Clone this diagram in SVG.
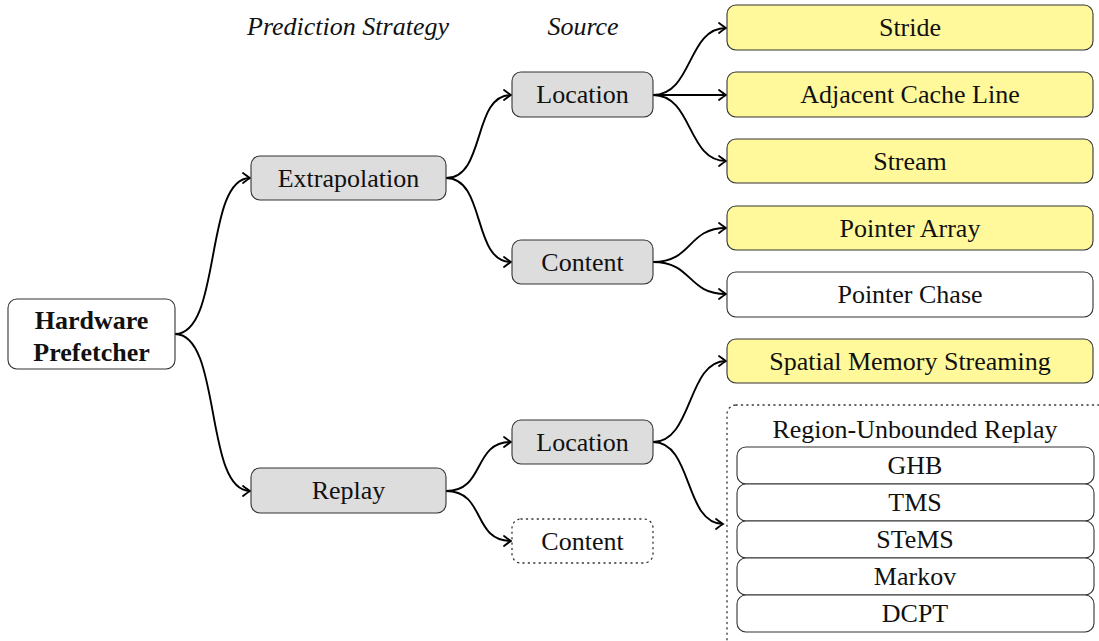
<svg xmlns="http://www.w3.org/2000/svg" width="1099" height="641" viewBox="0 0 1099 641">
<defs>
<marker id="arr" markerUnits="userSpaceOnUse" viewBox="-9 -7 11 14" refX="0" refY="0" markerWidth="11" markerHeight="14" orient="auto">
<path d="M-7,-5 Q-2,-1.2 0,0 Q-2,1.2 -7,5" fill="none" stroke="#000" stroke-width="1.8" stroke-linecap="round"/>
</marker>
</defs>
<rect width="1099" height="641" fill="#fff"/>
<g id="connectors" fill="none" stroke="#000" stroke-width="1.9" marker-end="url(#arr)">
<path d="M175,334 C222,334 204,178 250,178"/>
<path d="M175,334 C222,334 204,491 250,491"/>
<path d="M446,178 C486,178 472,95 511,95"/>
<path d="M446,178 C486,178 472,262 511,262"/>
<path d="M446,491 C486,491 472,442 511,442"/>
<path d="M446,491 C486,491 472,541 511,541"/>
<path d="M653,95 C693,95 687,28 726,28"/>
<path d="M653,95 L726,95"/>
<path d="M653,95 C693,95 687,161 726,161"/>
<path d="M653,262 C693,262 687,228 726,228"/>
<path d="M653,262 C693,262 687,294 726,294"/>
<path d="M653,442 C693,442 687,361 726,361"/>
<path d="M653,442 C693,442 684,524 723,524"/>
</g>
<g id="headers">
<text font-family="Liberation Serif" font-size="26" font-style="italic" fill="#111" text-anchor="middle" x="348" y="35">Prediction Strategy</text>
<text font-family="Liberation Serif" font-size="26" font-style="italic" fill="#111" text-anchor="middle" x="583" y="35">Source</text>
</g>
<g id="n-hw"><rect fill="#fff" stroke="#333" stroke-width="1.1" x="8" y="299" width="167" height="70" rx="9"/><text font-family="Liberation Serif" font-size="26" font-weight="bold" fill="#111" text-anchor="middle" x="91.5" y="329">Hardware</text><text font-family="Liberation Serif" font-size="26" font-weight="bold" fill="#111" text-anchor="middle" x="91.5" y="361">Prefetcher</text></g>
<g id="n-extrap"><rect fill="#dddddd" stroke="#333" stroke-width="1.1" x="251" y="156" width="195" height="44" rx="9"/><text font-family="Liberation Serif" font-size="26" fill="#111" text-anchor="middle" x="348.5" y="187">Extrapolation</text></g>
<g id="n-replay"><rect fill="#dddddd" stroke="#333" stroke-width="1.1" x="251" y="468" width="195" height="45" rx="9"/><text font-family="Liberation Serif" font-size="26" fill="#111" text-anchor="middle" x="348.5" y="499">Replay</text></g>
<g id="n-loc1"><rect fill="#dddddd" stroke="#333" stroke-width="1.1" x="512" y="72" width="141" height="45" rx="9"/><text font-family="Liberation Serif" font-size="26" fill="#111" text-anchor="middle" x="582.5" y="103">Location</text></g>
<g id="n-con1"><rect fill="#dddddd" stroke="#333" stroke-width="1.1" x="512" y="240" width="141" height="44" rx="9"/><text font-family="Liberation Serif" font-size="26" fill="#111" text-anchor="middle" x="582.5" y="271">Content</text></g>
<g id="n-loc2"><rect fill="#dddddd" stroke="#333" stroke-width="1.1" x="512" y="420" width="141" height="44" rx="9"/><text font-family="Liberation Serif" font-size="26" fill="#111" text-anchor="middle" x="582.5" y="451">Location</text></g>
<g id="n-con2"><rect fill="#fff" stroke="#333" stroke-width="1.3" stroke-dasharray="1.2 4.2" stroke-linecap="round" x="512" y="519" width="141" height="44" rx="9"/><text font-family="Liberation Serif" font-size="26" fill="#111" text-anchor="middle" x="582.5" y="550">Content</text></g>
<g id="n-stride"><rect fill="#fff99c" stroke="#333" stroke-width="1.1" x="727" y="5" width="366" height="45" rx="9"/><text font-family="Liberation Serif" font-size="26" fill="#111" text-anchor="middle" x="910" y="36">Stride</text></g>
<g id="n-adj"><rect fill="#fff99c" stroke="#333" stroke-width="1.1" x="727" y="72" width="366" height="45" rx="9"/><text font-family="Liberation Serif" font-size="26" fill="#111" text-anchor="middle" x="910" y="103">Adjacent Cache Line</text></g>
<g id="n-stream"><rect fill="#fff99c" stroke="#333" stroke-width="1.1" x="727" y="139" width="366" height="44" rx="9"/><text font-family="Liberation Serif" font-size="26" fill="#111" text-anchor="middle" x="910" y="170">Stream</text></g>
<g id="n-parr"><rect fill="#fff99c" stroke="#333" stroke-width="1.1" x="727" y="206" width="366" height="44" rx="9"/><text font-family="Liberation Serif" font-size="26" fill="#111" text-anchor="middle" x="910" y="237">Pointer Array</text></g>
<g id="n-pchase"><rect fill="#fff" stroke="#333" stroke-width="1.1" x="727" y="272" width="366" height="45" rx="9"/><text font-family="Liberation Serif" font-size="26" fill="#111" text-anchor="middle" x="910" y="303">Pointer Chase</text></g>
<g id="n-sms"><rect fill="#fff99c" stroke="#333" stroke-width="1.1" x="727" y="339" width="366" height="44" rx="9"/><text font-family="Liberation Serif" font-size="26" fill="#111" text-anchor="middle" x="910" y="370">Spatial Memory Streaming</text></g>
<g id="n-rub">
<rect fill="#fff" stroke="#333" stroke-width="1.3" stroke-dasharray="1.2 4.2" stroke-linecap="round" x="727" y="405" width="380" height="250" rx="9"/>
<text font-family="Liberation Serif" font-size="26" fill="#111" text-anchor="middle" x="915" y="438">Region-Unbounded Replay</text>
</g>
<g id="n-ghb"><rect fill="#fff" stroke="#333" stroke-width="1.1" x="737" y="447" width="357" height="37" rx="9"/><text font-family="Liberation Serif" font-size="26" fill="#111" text-anchor="middle" x="915" y="474">GHB</text></g>
<g id="n-tms"><rect fill="#fff" stroke="#333" stroke-width="1.1" x="737" y="484" width="357" height="37" rx="9"/><text font-family="Liberation Serif" font-size="26" fill="#111" text-anchor="middle" x="915" y="511">TMS</text></g>
<g id="n-stems"><rect fill="#fff" stroke="#333" stroke-width="1.1" x="737" y="521" width="357" height="37" rx="9"/><text font-family="Liberation Serif" font-size="26" fill="#111" text-anchor="middle" x="915" y="548">STeMS</text></g>
<g id="n-markov"><rect fill="#fff" stroke="#333" stroke-width="1.1" x="737" y="558" width="357" height="37" rx="9"/><text font-family="Liberation Serif" font-size="26" fill="#111" text-anchor="middle" x="915" y="585">Markov</text></g>
<g id="n-dcpt"><rect fill="#fff" stroke="#333" stroke-width="1.1" x="737" y="595" width="357" height="37" rx="9"/><text font-family="Liberation Serif" font-size="26" fill="#111" text-anchor="middle" x="915" y="622">DCPT</text></g>
</svg>
